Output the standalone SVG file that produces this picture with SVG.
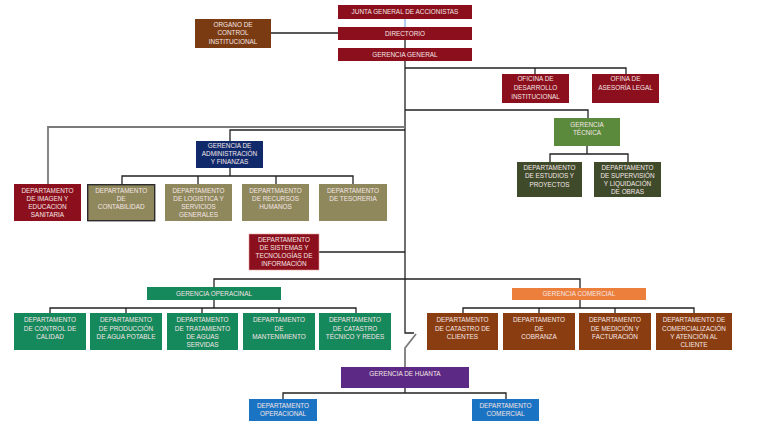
<svg xmlns="http://www.w3.org/2000/svg" width="768" height="433" viewBox="0 0 768 433">
<style>
.t{font-family:"Liberation Sans",Arial,sans-serif;font-size:6.4px;fill:#f5e6e6;text-anchor:middle}
.red{fill:#8b0f1c}
.brn{fill:#7a3b12}
.olv{fill:#8f885c}
.dgr{fill:#3f4a2b}
.tec{fill:#5b8a3c}
.nav{fill:#10296b}
.grn{fill:#15885c}
.cbr{fill:#8a3d11}
.org{fill:#ec7f3b}
.pur{fill:#5c2a84}
.blu{fill:#1b73c3}
.c{fill:none;stroke:#222;stroke-width:1.3}
.g{fill:none;stroke:#7a7a7a;stroke-width:1.8}
</style>
<rect width="768" height="433" fill="#fff"/>
<g id="connectors">
<line x1="405" y1="19" x2="405" y2="27" stroke="#86b6e6" stroke-width="1.3"/>
<line class="c" x1="405" y1="40" x2="405" y2="48"/>
<line class="c" x1="271" y1="33" x2="338" y2="33"/>
<polyline class="c" points="405,61 405,333 414,333"/>
<polyline class="g" points="416,334 405,348 405,367"/>
<polyline class="c" points="405,68 626,68 626,74"/>
<line class="c" x1="535" y1="68" x2="535" y2="74"/>
<polyline class="c" points="405,110 588,110 588,118"/>
<polyline class="c" points="587,146 587,154"/>
<polyline class="c" points="550,162 550,154 628,154 628,162"/>
<polyline class="g" points="48,184 48,127 405,127"/>
<polyline class="c" points="230,141 230,130 405,130"/>
<line class="c" x1="230" y1="168" x2="230" y2="176"/>
<polyline class="c" points="122,184 122,176 353,176 353,184"/>
<line class="c" x1="198" y1="176" x2="198" y2="184"/>
<line class="c" x1="276" y1="176" x2="276" y2="184"/>
<line class="c" x1="319" y1="252" x2="405" y2="252"/>
<polyline class="c" points="214,287 214,279 580,279 580,288"/>
<line class="c" x1="214" y1="300" x2="214" y2="308"/>
<polyline class="c" points="50,313 50,308 356,308 356,313"/>
<line class="c" x1="126" y1="308" x2="126" y2="313"/>
<line class="c" x1="202" y1="308" x2="202" y2="313"/>
<line class="c" x1="279" y1="308" x2="279" y2="313"/>
<line class="c" x1="580" y1="300" x2="580" y2="308"/>
<polyline class="c" points="463,313 463,308 694,308 694,313"/>
<line class="c" x1="539" y1="308" x2="539" y2="313"/>
<line class="c" x1="615" y1="308" x2="615" y2="313"/>
<line class="c" x1="405" y1="388" x2="405" y2="393"/>
<polyline class="c" points="283,399 283,393 506,393 506,399"/>
</g>
<g id="junta"><rect class="red" x="338" y="5" width="134" height="14"/><text class="t" x="405" y="14.3">JUNTA GENERAL DE ACCIONISTAS</text></g>
<g id="directorio"><rect class="red" x="338" y="27" width="134" height="13"/><text class="t" x="405" y="35.7">DIRECTORIO</text></g>
<g id="gerencia-general"><rect class="red" x="338" y="48" width="134" height="13"/><text class="t" x="405" y="56.7">GERENCIA GENERAL</text></g>
<g id="organo"><rect class="brn" x="195" y="19" width="76" height="29"/><text class="t" x="233" y="26.5">ORGANO DE</text><text class="t" x="233" y="35">CONTROL</text><text class="t" x="233" y="43.5">INSTITUCIONAL</text></g>
<g id="oficina-desarrollo"><rect class="red" x="502" y="74" width="67" height="29"/><text class="t" x="535.5" y="81.2">OFICINA DE</text><text class="t" x="535.5" y="90.2">DESARROLLO</text><text class="t" x="535.5" y="99.2">INSTITUCIONAL</text></g>
<g id="ofina-asesoria"><rect class="red" x="592" y="74" width="67" height="29"/><text class="t" x="625.5" y="81.2">OFINA DE</text><text class="t" x="625.5" y="90.2">ASESORÍA LEGAL</text></g>
<g id="gerencia-tecnica"><rect class="tec" x="554" y="118" width="66" height="28"/><text class="t" x="587" y="126.5">GERENCIA</text><text class="t" x="587" y="134.5">TÉCNICA</text></g>
<g id="dep-estudios"><rect class="dgr" x="517" y="162" width="65" height="35"/><text class="t" x="549.5" y="169.5">DEPARTAMENTO</text><text class="t" x="549.5" y="178">DE ESTUDIOS Y</text><text class="t" x="549.5" y="186.5">PROYECTOS</text></g>
<g id="dep-supervision"><rect class="dgr" x="594" y="162" width="67" height="35"/><text class="t" x="627.5" y="169.5">DEPARTAMENTO</text><text class="t" x="627.5" y="177.7">DE SUPERVISIÓN</text><text class="t" x="627.5" y="185.9">Y LIQUIDACIÓN</text><text class="t" x="627.5" y="194.1">DE OBRAS</text></g>
<g id="gerencia-admin"><rect class="nav" x="196" y="141" width="67" height="27"/><text class="t" x="229.5" y="148.3">GERENCIA DE</text><text class="t" x="229.5" y="156.3">ADMINISTRACIÓN</text><text class="t" x="229.5" y="164.3">Y FINANZAS</text></g>
<g id="dep-imagen"><rect class="red" x="14" y="184" width="67" height="37"/><text class="t" x="47.5" y="193">DEPARTAMENTO</text><text class="t" x="47.5" y="201">DE IMAGEN Y</text><text class="t" x="47.5" y="209">EDUCACION</text><text class="t" x="47.5" y="217">SANITARIA</text></g>
<g id="dep-contabilidad"><rect class="olv" x="87.7" y="184.7" width="67" height="36" stroke="#2b2b2b" stroke-width="1.4"/><text class="t" x="121.2" y="193">DEPARTAMENTO</text><text class="t" x="121.2" y="201">DE</text><text class="t" x="121.2" y="209">CONTABILIDAD</text></g>
<g id="dep-logistica"><rect class="olv" x="165" y="184" width="67" height="37"/><text class="t" x="198.5" y="193">DEPARTAMENTO</text><text class="t" x="198.5" y="201">DE LOGISTICA Y</text><text class="t" x="198.5" y="209">SERVICIOS</text><text class="t" x="198.5" y="217">GENERALES</text></g>
<g id="dep-recursos"><rect class="olv" x="242" y="184" width="67" height="37"/><text class="t" x="275.5" y="193">DEPARTMAENTO</text><text class="t" x="275.5" y="201">DE RECURSOS</text><text class="t" x="275.5" y="209">HUMANOS</text></g>
<g id="dep-tesoreria"><rect class="olv" x="319" y="184" width="68" height="37"/><text class="t" x="353" y="193">DEPARTAMENTO</text><text class="t" x="353" y="201">DE TESORERIA</text></g>
<g id="dep-sistemas"><rect class="red" x="249" y="234" width="70" height="36" stroke="#e8a0a0" stroke-width="0.6"/><text class="t" x="284" y="242.2">DEPARTAMENTO</text><text class="t" x="284" y="250">DE SISTEMAS Y</text><text class="t" x="284" y="258">TECNOLOGÍAS DE</text><text class="t" x="284" y="265.8">INFORMACIÓN</text></g>
<g id="gerencia-operacional"><rect class="grn" x="147" y="287" width="134" height="13"/><text class="t" x="214" y="295.7">GERENCIA OPERACINAL</text></g>
<g id="gerencia-comercial"><rect class="org" x="512" y="288" width="134" height="12"/><text class="t" x="579" y="296.2">GERENCIA COMERCIAL</text></g>
<g id="dep-calidad"><rect class="grn" x="14" y="313" width="72" height="37"/><text class="t" x="50" y="322.3">DEPARTAMENTO</text><text class="t" x="50" y="330.5">DE CONTROL DE</text><text class="t" x="50" y="338.7">CALIDAD</text></g>
<g id="dep-produccion"><rect class="grn" x="90" y="313" width="72" height="37"/><text class="t" x="126" y="322.3">DEPARTAMENTO</text><text class="t" x="126" y="330.5">DE PRODUCCIÓN</text><text class="t" x="126" y="338.7">DE AGUA POTABLE</text></g>
<g id="dep-tratamiento"><rect class="grn" x="167" y="313" width="71" height="37"/><text class="t" x="202.5" y="322.3">DEPARTAMENTO</text><text class="t" x="202.5" y="330.5">DE TRATAMIENTO</text><text class="t" x="202.5" y="338.7">DE AGUAS</text><text class="t" x="202.5" y="346.9">SERVIDAS</text></g>
<g id="dep-mantenimiento"><rect class="grn" x="243" y="313" width="72" height="37"/><text class="t" x="279" y="322.3">DEPARTAMENTO</text><text class="t" x="279" y="330.5">DE</text><text class="t" x="279" y="338.7">MANTENIMIENTO</text></g>
<g id="dep-catastro-tecnico"><rect class="grn" x="319" y="313" width="72" height="37"/><text class="t" x="355" y="322.3">DEPARTAMENTO</text><text class="t" x="355" y="330.5">DE CATASTRO</text><text class="t" x="355" y="338.7">TÉCNICO Y REDES</text></g>
<g id="dep-catastro-clientes"><rect class="cbr" x="427" y="313" width="71" height="37"/><text class="t" x="462.5" y="322.3">DEPARTAMENTO</text><text class="t" x="462.5" y="330.5">DE CATASTRO DE</text><text class="t" x="462.5" y="338.7">CLIENTES</text></g>
<g id="dep-cobranza"><rect class="cbr" x="503" y="313" width="72" height="37"/><text class="t" x="539" y="322.3">DEPARTAMENTO</text><text class="t" x="539" y="330.5">DE</text><text class="t" x="539" y="338.7">COBRANZA</text></g>
<g id="dep-medicion"><rect class="cbr" x="579" y="313" width="72" height="37"/><text class="t" x="615" y="322.3">DEPARTAMENTO</text><text class="t" x="615" y="330.5">DE MEDICIÓN Y</text><text class="t" x="615" y="338.7">FACTURACIÓN</text></g>
<g id="dep-comercializacion"><rect class="cbr" x="656" y="313" width="76" height="37"/><text class="t" x="694" y="322.3">DEPARTAMENTO DE</text><text class="t" x="694" y="330.5">COMERCIALIZACIÓN</text><text class="t" x="694" y="338.7">Y ATENCIÓN AL</text><text class="t" x="694" y="346.9">CLIENTE</text></g>
<g id="gerencia-huanta"><rect class="pur" x="341" y="367" width="128" height="21"/><text class="t" x="405" y="375.5">GERENCIA DE HUANTA</text></g>
<g id="dep-operacional"><rect class="blu" x="249" y="399" width="68" height="22"/><text class="t" x="283" y="408.2">DEPARTAMENTO</text><text class="t" x="283" y="415.6">OPERACIONAL</text></g>
<g id="dep-comercial-huanta"><rect class="blu" x="472" y="399" width="67" height="22"/><text class="t" x="505.5" y="408.2">DEPARTAMENTO</text><text class="t" x="505.5" y="415.6">COMERCIAL</text></g>
</svg>
